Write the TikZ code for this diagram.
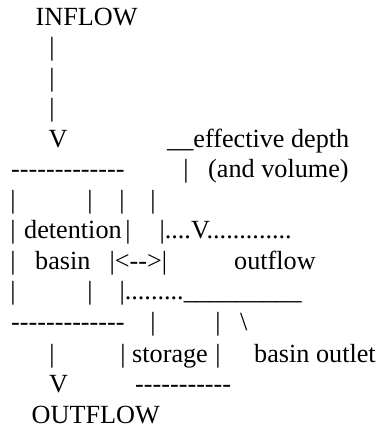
\documentclass[tikz,border=0pt]{standalone}
\usepackage{fontspec}
\setmainfont{Liberation Serif}[Ligatures={TeXOff,CommonOff}]
\begin{document}
\begin{tikzpicture}[x=1pt,y=-1pt,
  txt/.style={anchor=base west, inner sep=0pt, font=\fontsize{26.2}{30}\selectfont},
  bar/.style={anchor=base, inner sep=0pt, font=\fontsize{26.2}{30}\selectfont}]
\useasboundingbox (0,0) rectangle (381,429);
% text lines sit on baselines about 30.5pt apart
% line 0
\node[txt] (inflow) at (35.5,25) {INFLOW};
% lines 1-3: inflow stem
\node[bar] (in1) at (52,55.5) {|};
\node[bar] (in2) at (52,86) {|};
\node[bar] (in3) at (52,116.5) {|};
% line 4
\node[txt] (inV) at (48.5,147) {V};
\node[txt] (depth) at (167,147) {\_\_effective depth};
% line 5
\node[txt] (toprim) at (11,177.5) {-------------};
\node[bar] (dpipe) at (186,177.5) {|};
\node[txt] (volume) at (208,177.5) {(and volume)};
% line 6
\node[bar] (a1) at (13,208) {|};
\node[bar] (a2) at (90,208) {|};
\node[bar] (a3) at (122,208) {|};
\node[bar] (a4) at (153,208) {|};
% line 7
\node[bar] (b1) at (13,238.5) {|};
\node[txt] (detention) at (24,238.5) {detention};
\node[bar] (b2) at (128,238.5) {|};
\node[txt] (level) at (159.4,238.5) {|....V.............};
% line 8
\node[bar] (c1) at (13,269) {|};
\node[txt] (basin) at (35,269) {basin};
\node[txt] (arrow) at (109.4,269) {|<-->|};
\node[txt] (outflowlbl) at (234,269) {outflow};
% line 9
\node[bar] (d1) at (13,299.5) {|};
\node[bar] (d2) at (90,299.5) {|};
\node[txt] (weir) at (119.4,299.5) {|.........\_\_\_\_\_\_\_\_\_};
% line 10
\node[txt] (botrim) at (11,330) {-------------};
\node[bar] (e1) at (153,330) {|};
\node[bar] (e2) at (218,330) {|};
\node[txt] (slash) at (240,330) {\textbackslash};
% line 11
\node[bar] (f1) at (52,362) {|};
\node[bar] (f2) at (123,362) {|};
\node[txt] (storage) at (132,362) {storage};
\node[bar] (f3) at (218,362) {|};
\node[txt] (outlet) at (254,362) {basin outlet};
% line 12
\node[txt] (outV) at (49,392) {V};
\node[txt] (stbase) at (135,392) {-----------};
% line 13
\node[txt] (outflow) at (31.5,423.5) {OUTFLOW};
\end{tikzpicture}
\end{document}
